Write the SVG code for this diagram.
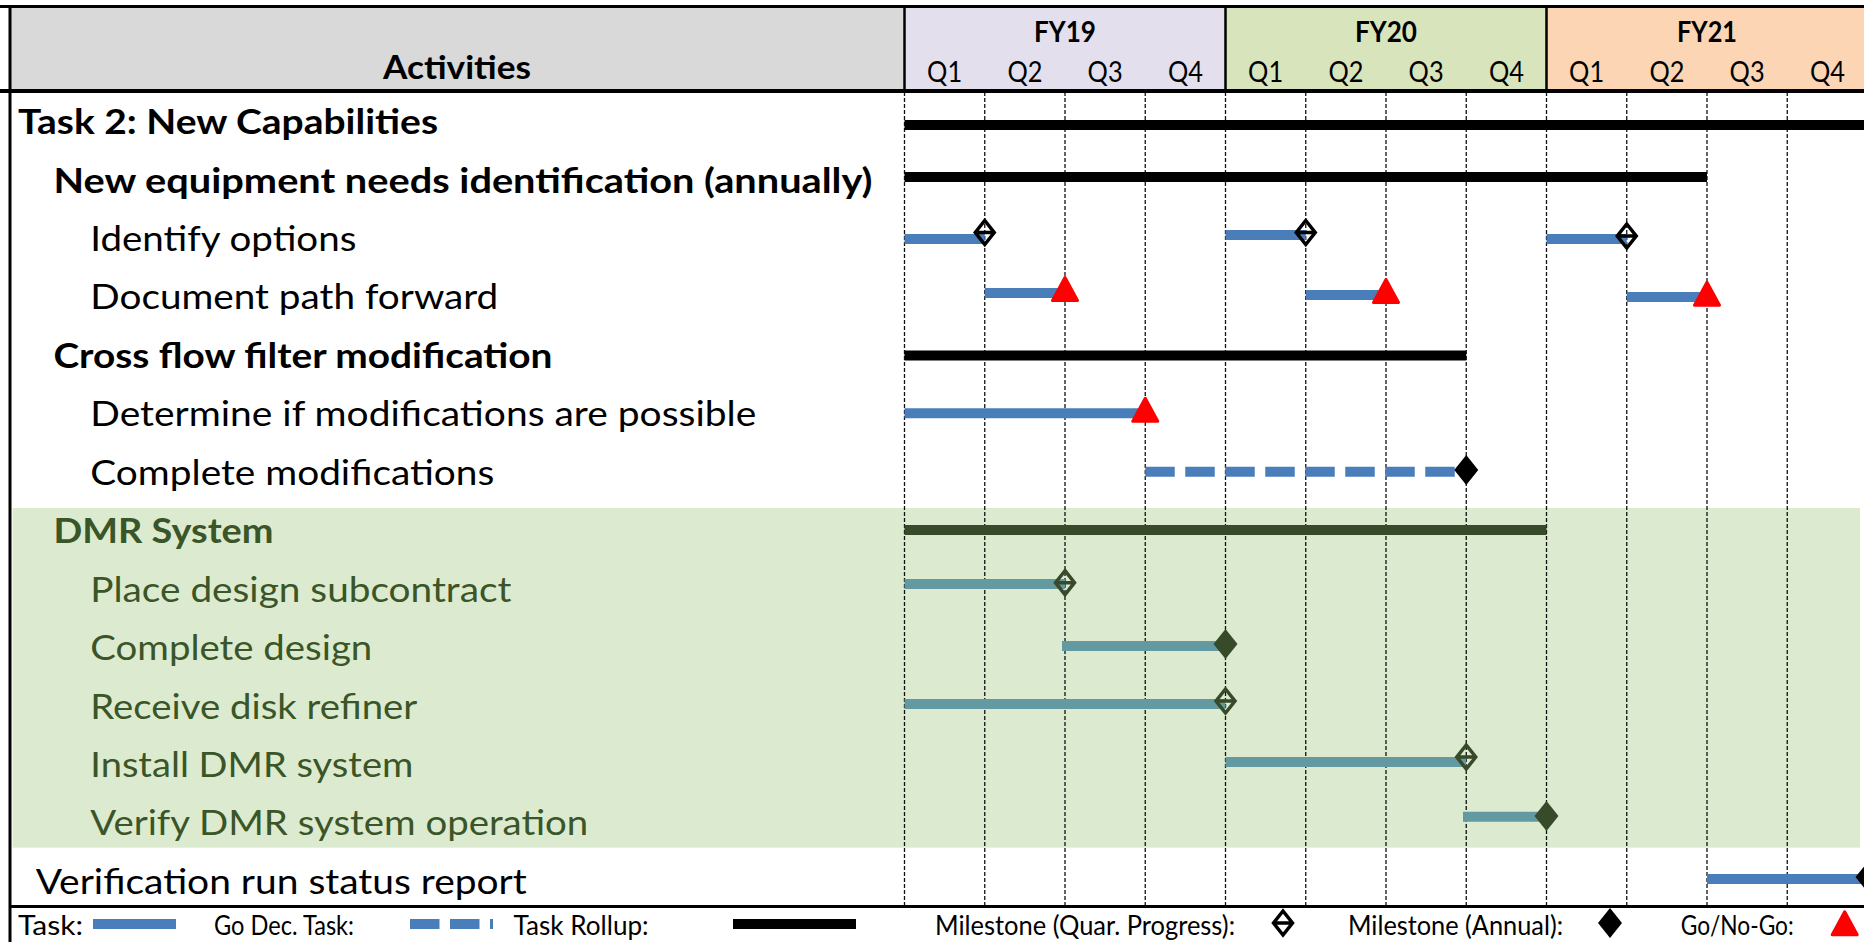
<svg xmlns="http://www.w3.org/2000/svg" xmlns:xlink="http://www.w3.org/1999/xlink" width="1864" height="942" viewBox="0 0 1864 942">
  <style>
    .t { font-family: Lato, "Liberation Sans", sans-serif; fill: #000; }
    .b { font-weight: bold; }
    .body { font-size: 35px; }
    .head { font-size: 35px; font-weight: bold; }
    .hdr { font-size: 28px; }
    .act { font-size: 32px; }
    .leg { font-size: 26px; }
    .green { fill: #3A5527; }
    .grid line { stroke: #111; stroke-width: 1.3; stroke-dasharray: 4 2; }
    .task { stroke: #4A7EBB; stroke-width: 10; }
    .dmr { stroke: #6399A1; stroke-width: 10; }
    .roll { stroke: #000; stroke-width: 10; }
    .rollg { stroke: #374A29; stroke-width: 10; }
    .godec { stroke: #4A7EBB; stroke-width: 10; stroke-dasharray: 29.5 10.5; }
    .frame { stroke: #000; fill: none; }
  </style>
  <defs>
    <!-- quarterly progress milestone: open diamond with a midline -->
    <path id="msq" d="M0,-12 L9.5,0 L0,12 L-9.5,0 Z M-9.5,0 H9.5" fill="none" stroke-width="3.5" stroke-linejoin="miter"/>
    <!-- annual milestone: solid diamond -->
    <path id="msa" d="M0,-15 L12,0 L0,15 L-12,0 Z"/>
    <!-- go / no-go decision -->
    <polygon id="gng" points="0,-11.5 12.5,11.5 -12.5,11.5" fill="#FF0000" stroke="#FF0000" stroke-width="3" stroke-linejoin="round"/>
  </defs>

  <rect width="1864" height="942" fill="#fff"/>

  <!-- header band -->
  <g id="header">
    <rect x="10" y="6.5" width="894.5" height="84" fill="#D9D9D9"/>
    <rect x="904.5" y="6.5" width="321" height="84" fill="#E4DFEC"/>
    <rect x="1225.5" y="6.5" width="321" height="84" fill="#D8E4BC"/>
    <rect x="1546.5" y="6.5" width="320" height="84" fill="#FCD5B4"/>
    <text class="t b act" x="457" y="79" text-anchor="middle" textLength="148" lengthAdjust="spacingAndGlyphs">Activities</text>
    <text class="t b hdr" x="1065" y="41.5" text-anchor="middle" textLength="62" lengthAdjust="spacingAndGlyphs">FY19</text>
    <text class="t b hdr" x="1386" y="41.5" text-anchor="middle" textLength="62" lengthAdjust="spacingAndGlyphs">FY20</text>
    <text class="t b hdr" x="1707" y="41.5" text-anchor="middle" textLength="60" lengthAdjust="spacingAndGlyphs">FY21</text>
    <g class="t hdr" text-anchor="middle">
      <text x="944.6" y="81.5" textLength="35" lengthAdjust="spacingAndGlyphs">Q1</text>
      <text x="1024.9" y="81.5" textLength="35" lengthAdjust="spacingAndGlyphs">Q2</text>
      <text x="1105.1" y="81.5" textLength="35" lengthAdjust="spacingAndGlyphs">Q3</text>
      <text x="1185.4" y="81.5" textLength="35" lengthAdjust="spacingAndGlyphs">Q4</text>
      <text x="1265.6" y="81.5" textLength="35" lengthAdjust="spacingAndGlyphs">Q1</text>
      <text x="1345.9" y="81.5" textLength="35" lengthAdjust="spacingAndGlyphs">Q2</text>
      <text x="1426.1" y="81.5" textLength="35" lengthAdjust="spacingAndGlyphs">Q3</text>
      <text x="1506.4" y="81.5" textLength="35" lengthAdjust="spacingAndGlyphs">Q4</text>
      <text x="1586.6" y="81.5" textLength="35" lengthAdjust="spacingAndGlyphs">Q1</text>
      <text x="1666.9" y="81.5" textLength="35" lengthAdjust="spacingAndGlyphs">Q2</text>
      <text x="1747.1" y="81.5" textLength="35" lengthAdjust="spacingAndGlyphs">Q3</text>
      <text x="1827.4" y="81.5" textLength="35" lengthAdjust="spacingAndGlyphs">Q4</text>
    </g>
  </g>

  <!-- DMR sub-task highlight band -->
  <rect id="dmr-band" x="12.5" y="508" width="1847.5" height="339.7" fill="#DCEBCF"/>

  <!-- quarter gridlines -->
  <g class="grid" id="grid">
    <line x1="904.5" y1="92" x2="904.5" y2="905"/>
    <line x1="984.75" y1="92" x2="984.75" y2="905"/>
    <line x1="1065" y1="92" x2="1065" y2="905"/>
    <line x1="1145.25" y1="92" x2="1145.25" y2="905"/>
    <line x1="1225.5" y1="92" x2="1225.5" y2="905"/>
    <line x1="1305.75" y1="92" x2="1305.75" y2="905"/>
    <line x1="1386" y1="92" x2="1386" y2="905"/>
    <line x1="1466.25" y1="92" x2="1466.25" y2="905"/>
    <line x1="1546.5" y1="92" x2="1546.5" y2="905"/>
    <line x1="1626.75" y1="92" x2="1626.75" y2="905"/>
    <line x1="1707" y1="92" x2="1707" y2="905"/>
    <line x1="1787.25" y1="92" x2="1787.25" y2="905"/>
  </g>

  <!-- frame lines -->
  <g id="frame" class="frame">
    <line x1="0" y1="6.5" x2="1864" y2="6.5" stroke-width="3"/>
    <line x1="0" y1="91" x2="1864" y2="91" stroke-width="4"/>
    <line x1="10" y1="5" x2="10" y2="942" stroke-width="3"/>
    <line x1="904.5" y1="6.5" x2="904.5" y2="91" stroke-width="2.5"/>
    <line x1="1225.5" y1="6.5" x2="1225.5" y2="91" stroke-width="2.5"/>
    <line x1="1546.5" y1="6.5" x2="1546.5" y2="91" stroke-width="2.5"/>
    <line x1="10" y1="906.5" x2="1864" y2="906.5" stroke-width="3"/>
  </g>

  <!-- activity rows: label, bars and milestones -->
  <g id="row-task2">
    <text class="t head" x="18" y="134" textLength="420" lengthAdjust="spacingAndGlyphs">Task 2: New Capabilities</text>
    <line class="roll" x1="904.5" y1="125" x2="1864" y2="125"/>
  </g>
  <g id="row-equipment">
    <text class="t head" x="53.5" y="192.5" textLength="819" lengthAdjust="spacingAndGlyphs">New equipment needs identification (annually)</text>
    <line class="roll" x1="904.5" y1="177" x2="1707" y2="177"/>
  </g>
  <g id="row-identify">
    <text class="t body" x="90.3" y="251" textLength="266" lengthAdjust="spacingAndGlyphs">Identify options</text>
    <line class="task" x1="904.5" y1="239" x2="984.75" y2="239"/>
    <use xlink:href="#msq" x="984.75" y="232.5" stroke="#000"/>
    <line class="task" x1="1225.5" y1="235" x2="1305.75" y2="235"/>
    <use xlink:href="#msq" x="1305.75" y="232.5" stroke="#000"/>
    <line class="task" x1="1546.5" y1="239" x2="1626.75" y2="239"/>
    <use xlink:href="#msq" x="1626.75" y="236" stroke="#000"/>
  </g>
  <g id="row-document">
    <text class="t body" x="90.3" y="309.4" textLength="408" lengthAdjust="spacingAndGlyphs">Document path forward</text>
    <line class="task" x1="984.75" y1="293" x2="1065" y2="293"/>
    <use xlink:href="#gng" x="1065" y="289"/>
    <line class="task" x1="1305.75" y1="295" x2="1386" y2="295"/>
    <use xlink:href="#gng" x="1386" y="291"/>
    <line class="task" x1="1626.75" y1="297" x2="1707" y2="297"/>
    <use xlink:href="#gng" x="1707" y="293.7"/>
  </g>
  <g id="row-crossflow">
    <text class="t head" x="53.5" y="367.8" textLength="499" lengthAdjust="spacingAndGlyphs">Cross flow filter modification</text>
    <line class="roll" x1="904.5" y1="355.5" x2="1466.25" y2="355.5"/>
  </g>
  <g id="row-determine">
    <text class="t body" x="90.3" y="426.3" textLength="666" lengthAdjust="spacingAndGlyphs">Determine if modifications are possible</text>
    <line class="task" x1="904.5" y1="413.3" x2="1145.25" y2="413.3"/>
    <use xlink:href="#gng" x="1145.25" y="409.7"/>
  </g>
  <g id="row-complete-mods">
    <text class="t body" x="90.3" y="484.7" textLength="404" lengthAdjust="spacingAndGlyphs">Complete modifications</text>
    <line class="godec" x1="1145.25" y1="471.7" x2="1460" y2="471.7"/>
    <use xlink:href="#msa" x="1466.25" y="470" fill="#000"/>
  </g>
  <g id="row-dmr">
    <text class="t head green" x="53.5" y="543.2" textLength="220" lengthAdjust="spacingAndGlyphs">DMR System</text>
    <line class="rollg" x1="904.5" y1="530" x2="1546.5" y2="530"/>
  </g>
  <g id="row-place-design">
    <text class="t body green" x="90.3" y="601.6" textLength="421" lengthAdjust="spacingAndGlyphs">Place design subcontract</text>
    <line class="dmr" x1="904.5" y1="584" x2="1065" y2="584"/>
    <use xlink:href="#msq" x="1065" y="582.7" stroke="#374A29"/>
  </g>
  <g id="row-complete-design">
    <text class="t body green" x="90.3" y="660.1" textLength="282" lengthAdjust="spacingAndGlyphs">Complete design</text>
    <line class="dmr" x1="1062" y1="646" x2="1222" y2="646"/>
    <use xlink:href="#msa" x="1225.5" y="644" fill="#374A29"/>
  </g>
  <g id="row-receive">
    <text class="t body green" x="90.3" y="718.5" textLength="327" lengthAdjust="spacingAndGlyphs">Receive disk refiner</text>
    <line class="dmr" x1="904.5" y1="704" x2="1225.5" y2="704"/>
    <use xlink:href="#msq" x="1225.5" y="701" stroke="#374A29"/>
  </g>
  <g id="row-install">
    <text class="t body green" x="90.3" y="777" textLength="323" lengthAdjust="spacingAndGlyphs">Install DMR system</text>
    <line class="dmr" x1="1225.5" y1="762" x2="1466.25" y2="762"/>
    <use xlink:href="#msq" x="1466.25" y="757" stroke="#374A29"/>
  </g>
  <g id="row-verify">
    <text class="t body green" x="90.3" y="835.4" textLength="498" lengthAdjust="spacingAndGlyphs">Verify DMR system operation</text>
    <line class="dmr" x1="1463" y1="816.7" x2="1543" y2="816.7"/>
    <use xlink:href="#msa" x="1546.5" y="816" fill="#374A29"/>
  </g>
  <g id="row-verification-report">
    <text class="t body" x="35.7" y="893.9" textLength="491" lengthAdjust="spacingAndGlyphs">Verification run status report</text>
    <line class="task" x1="1707" y1="879" x2="1864" y2="879"/>
    <use xlink:href="#msa" x="1867.5" y="877" fill="#000"/>
  </g>

  <!-- legend -->
  <g id="legend">
    <text class="t leg" x="18" y="935" textLength="65" lengthAdjust="spacingAndGlyphs">Task:</text>
    <line class="task" x1="93" y1="924" x2="176" y2="924" stroke-width="8"/>
    <text class="t leg" x="214" y="935" textLength="140" lengthAdjust="spacingAndGlyphs">Go Dec. Task:</text>
    <line class="godec" x1="410" y1="924" x2="493" y2="924" stroke-width="8"/>
    <text class="t leg" x="513.6" y="935" textLength="135" lengthAdjust="spacingAndGlyphs">Task Rollup:</text>
    <line class="roll" x1="733" y1="924" x2="856" y2="924" stroke-width="9"/>
    <text class="t leg" x="935" y="935" textLength="300" lengthAdjust="spacingAndGlyphs">Milestone (Quar. Progress):</text>
    <use xlink:href="#msq" x="1283" y="923" stroke="#000"/>
    <text class="t leg" x="1348" y="935" textLength="215" lengthAdjust="spacingAndGlyphs">Milestone (Annual):</text>
    <use xlink:href="#msa" x="1610" y="923" fill="#000"/>
    <text class="t leg" x="1680.7" y="935" textLength="113" lengthAdjust="spacingAndGlyphs">Go/No-Go:</text>
    <use xlink:href="#gng" x="1844.7" y="923.3"/>
  </g>
</svg>
